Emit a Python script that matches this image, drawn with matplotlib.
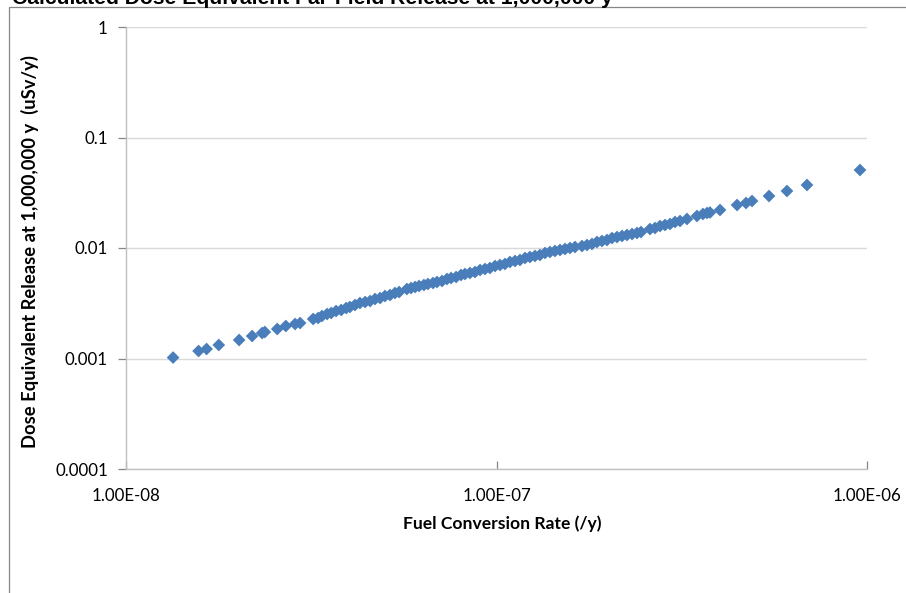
import matplotlib
matplotlib.use("Agg")
import matplotlib.pyplot as plt
from matplotlib.patches import Rectangle
from matplotlib.ticker import FixedLocator, NullLocator

title = "Calculated Dose Equivalent Far-Field Release at 1,000,000 y"
x_label = "Fuel Conversion Rate (/y)"
y_label = "Dose Equivalent Release at 1,000,000 y  (uSv/y)"

x_ticks = [1e-8, 1e-7, 1e-6]
x_tick_labels = ["1.00E-08", "1.00E-07", "1.00E-06"]
y_ticks = [1e-4, 1e-3, 1e-2, 1e-1, 1]
y_tick_labels = ["0.0001", "0.001", "0.01", "0.1", "1"]

conversion_rate = [
    1.34e-8, 1.57e-8, 1.65e-8, 1.78e-8, 2.02e-8, 2.19e-8, 2.33e-8, 2.37e-8,
    2.56e-8, 2.70e-8, 2.86e-8, 2.95e-8, 3.20e-8, 3.30e-8, 3.38e-8, 3.49e-8,
    3.58e-8, 3.69e-8, 3.81e-8, 3.93e-8, 4.02e-8, 4.15e-8, 4.28e-8, 4.42e-8,
    4.56e-8, 4.70e-8, 4.85e-8, 5.00e-8, 5.16e-8, 5.32e-8, 5.46e-8, 5.73e-8,
    5.88e-8, 6.03e-8, 6.18e-8, 6.37e-8, 6.53e-8, 6.74e-8, 6.91e-8, 7.13e-8,
    7.35e-8, 7.54e-8, 7.78e-8, 8.02e-8, 8.22e-8, 8.48e-8, 8.75e-8, 9.03e-8,
    9.31e-8, 9.60e-8, 9.91e-8, 1.022e-7, 1.054e-7, 1.087e-7, 1.122e-7,
    1.157e-7, 1.194e-7, 1.231e-7, 1.270e-7, 1.310e-7, 1.352e-7, 1.394e-7,
    1.438e-7, 1.484e-7, 1.531e-7, 1.579e-7, 1.629e-7, 1.701e-7, 1.755e-7,
    1.810e-7, 1.867e-7, 1.926e-7, 1.987e-7, 2.050e-7, 2.115e-7, 2.182e-7,
    2.250e-7, 2.322e-7, 2.395e-7, 2.455e-7, 2.596e-7, 2.678e-7, 2.763e-7,
    2.850e-7, 2.940e-7, 3.033e-7, 3.129e-7, 3.267e-7, 3.476e-7, 3.608e-7,
    3.700e-7, 3.769e-7, 4.011e-7, 4.459e-7, 4.715e-7, 4.894e-7, 5.439e-7,
    6.081e-7, 6.887e-7, 9.574e-7,
]

dose = [
    1.02e-3, 1.169e-3, 1.219e-3, 1.325e-3, 1.470e-3, 1.597e-3, 1.700e-3, 1.737e-3,
    1.849e-3, 1.968e-3, 2.052e-3, 2.095e-3, 2.278e-3, 2.326e-3, 2.424e-3, 2.527e-3,
    2.580e-3, 2.690e-3, 2.747e-3, 2.863e-3, 2.924e-3, 3.048e-3, 3.178e-3, 3.244e-3,
    3.313e-3, 3.454e-3, 3.526e-3, 3.676e-3, 3.754e-3, 3.914e-3, 3.996e-3, 4.254e-3,
    4.344e-3, 4.436e-3, 4.529e-3, 4.625e-3, 4.722e-3, 4.822e-3, 4.923e-3, 5.027e-3,
    5.241e-3, 5.351e-3, 5.464e-3, 5.697e-3, 5.817e-3, 5.940e-3, 6.064e-3, 6.323e-3,
    6.456e-3, 6.592e-3, 6.872e-3, 7.017e-3, 7.164e-3, 7.470e-3, 7.627e-3,
    7.787e-3, 8.120e-3, 8.290e-3, 8.465e-3, 8.643e-3, 9.011e-3, 9.200e-3,
    9.394e-3, 9.590e-3, 9.792e-3, 1.000e-2, 1.021e-2, 1.042e-2, 1.064e-2,
    1.087e-2, 1.133e-2, 1.157e-2, 1.181e-2, 1.231e-2, 1.257e-2, 1.284e-2,
    1.311e-2, 1.338e-2, 1.367e-2, 1.395e-2, 1.485e-2, 1.517e-2, 1.581e-2,
    1.615e-2, 1.649e-2, 1.719e-2, 1.755e-2, 1.830e-2, 1.948e-2, 2.031e-2,
    2.074e-2, 2.095e-2, 2.207e-2, 2.449e-2, 2.554e-2, 2.663e-2, 2.954e-2,
    3.280e-2, 3.716e-2, 5.078e-2,
]

W, H = 906, 593
fig = plt.figure(figsize=(W / 100, H / 100), dpi=100)
fig.patch.set_facecolor("white")

# chart-area border (clipped at right/bottom like the reference)
fig.add_artist(Rectangle((9 / W, -0.05), 1.1, 1 - 7 / H + 0.05,
                         transform=fig.transFigure, fill=False,
                         edgecolor="#868686", linewidth=0.9))

# title is partly cut off at the top edge, as in the reference
fig.text(12 / W, 1 - 4 / H, title, family="Liberation Sans", weight="bold",
         fontsize=15.2, ha="left", va="baseline", color="black")

ax = fig.add_axes([126 / W, 1 - 469 / H, (867 - 126) / W, (469 - 27) / H])
ax.set_xscale("log")
ax.set_yscale("log")
ax.set_xlim(1e-8, 1e-6)
ax.set_ylim(1e-4, 1)

ax.scatter(conversion_rate, dose, marker="D", s=42, color="#4A7EBB",
           edgecolors="none", zorder=3)

ax.xaxis.set_major_locator(FixedLocator(x_ticks))
ax.yaxis.set_major_locator(FixedLocator(y_ticks))
ax.xaxis.set_minor_locator(NullLocator())
ax.yaxis.set_minor_locator(NullLocator())
ax.set_xticklabels(x_tick_labels)
ax.set_yticklabels(y_tick_labels)

for lab in ax.get_xticklabels() + ax.get_yticklabels():
    lab.set_fontfamily("Lato")
    lab.set_fontsize(12.2)
    lab.set_color("black")

ax.tick_params(axis="y", direction="out", length=6, width=0.9, color="#868686", pad=7)
ax.tick_params(axis="x", direction="in", length=6, width=0.9, color="#868686", pad=14)

ax.grid(axis="y", color="#D9D9D9", linewidth=1.0)
ax.set_axisbelow(True)
for side in ["top", "right"]:
    ax.spines[side].set_visible(False)
for side in ["left", "bottom"]:
    ax.spines[side].set_color("#BFBFBF")
    ax.spines[side].set_linewidth(1.0)

ax.set_xlabel(x_label, family="Lato", weight="bold", fontsize=12.6, labelpad=12)
ax.xaxis.set_label_coords((502 - 126) / (867 - 126), -0.105)
ax.set_ylabel(y_label, family="Lato", weight="bold", fontsize=13.2, labelpad=14)
ax.yaxis.set_label_coords(-(126 - 39) / (867 - 126), (469 - 252) / (469 - 27))

fig.savefig("out.png", dpi=100)
